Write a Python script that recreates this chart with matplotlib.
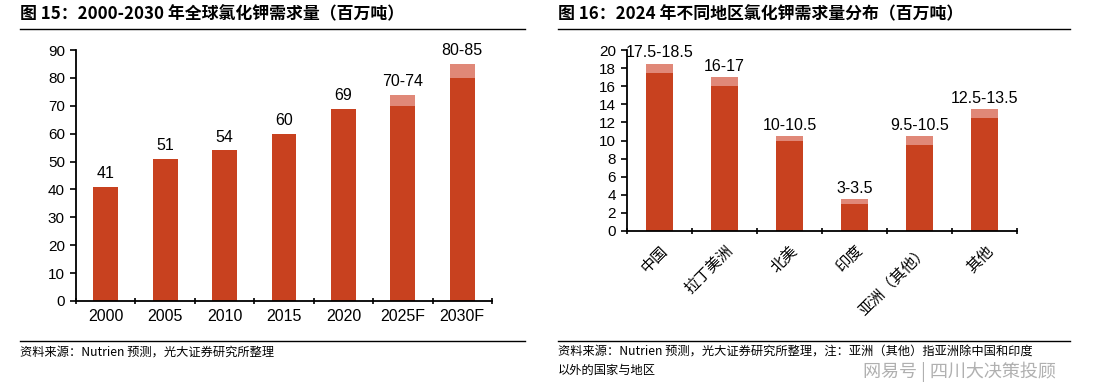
import numpy as np
import matplotlib
matplotlib.use("Agg")
import matplotlib.pyplot as plt
from matplotlib.lines import Line2D

plt.rcParams['font.family'] = ['Liberation Sans', 'Noto Sans CJK SC', 'DejaVu Sans']

# ---------------------------------------------------------------------------
# Data
# ---------------------------------------------------------------------------
years = ["2000", "2005", "2010", "2015", "2020", "2025F", "2030F"]
demand_low = [41, 51, 54, 60, 69, 70, 80]
demand_range = [0, 0, 0, 0, 0, 4, 5]
demand_labels = ["41", "51", "54", "60", "69", "70-74", "80-85"]

regions = ["中国", "拉丁美洲", "北美", "印度", "亚洲（其他）", "其他"]
region_low = [17.5, 16, 10, 3, 9.5, 12.5]
region_range = [1, 1, 0.5, 0.5, 1, 1]
region_labels = ["17.5-18.5", "16-17", "10-10.5", "3-3.5", "9.5-10.5", "12.5-13.5"]

DARK = "#C8411F"
LIGHT = "#E08878"
CJK = ['Noto Sans CJK SC', 'DejaVu Sans']

W, H = 1099, 391
fig = plt.figure(figsize=(W / 100, H / 100), dpi=100)


def fx(px):
    return px / W


def fy(py):
    return 1 - py / H


def style_axes(ax, n):
    for s in ["top", "right"]:
        ax.spines[s].set_visible(False)
    for s in ["left", "bottom"]:
        ax.spines[s].set_linewidth(1.3)
        ax.spines[s].set_color("black")
    ax.set_xlim(-0.5, n - 0.5)
    ax.set_xticks(range(n))
    ax.tick_params(axis="x", which="major", length=0, pad=6)
    ax.set_xticks(np.arange(-0.5, n), minor=True)
    ax.tick_params(axis="x", which="minor", length=4, width=1.2, direction="inout")
    ax.tick_params(axis="y", length=4, width=1.2, direction="out", pad=4, labelsize=11)


def draw_bars(ax, low, rng, labels, offset):
    x = np.arange(len(low))
    ax.bar(x, low, width=0.42, color=DARK, zorder=2)
    ax.bar(x, rng, bottom=low, width=0.42, color=LIGHT, zorder=2)
    tops = np.array(low) + np.array(rng)
    for xi, t, lab in zip(x, tops, labels):
        ax.text(xi, t + offset, lab, ha="center", va="bottom", fontsize=11.5)


# ---- Left chart -------------------------------------------------------------
ax1 = fig.add_axes([fx(76), fy(301), fx(492) - fx(76), fy(50) - fy(301)])
draw_bars(ax1, demand_low, demand_range, demand_labels, 2.0)
style_axes(ax1, len(years))
ax1.set_ylim(0, 90)
ax1.set_yticks(range(0, 91, 10))
ax1.set_xticklabels(years, fontsize=11.5)

# ---- Right chart ------------------------------------------------------------
ax2 = fig.add_axes([fx(627), fy(231), fx(1017) - fx(627), fy(50) - fy(231)])
draw_bars(ax2, region_low, region_range, region_labels, 0.35)
style_axes(ax2, len(regions))
ax2.set_ylim(0, 20)
ax2.set_yticks(range(0, 21, 2))
ax2.set_xticklabels(regions, rotation=45, ha="right", rotation_mode="anchor",
                    fontsize=11, family=CJK)
ax2.tick_params(axis="x", which="major", pad=8)

# ---- Titles, rules and source notes ---------------------------------------
fig.text(fx(20), fy(14), "图 15：2000-2030 年全球氯化钾需求量（百万吨）",
         family=CJK, fontsize=12.2, fontweight="bold", va="center", ha="left")
fig.text(fx(558), fy(14), "图 16：2024 年不同地区氯化钾需求量分布（百万吨）",
         family=CJK, fontsize=12.2, fontweight="bold", va="center", ha="left")

for x0, x1 in [(20, 525), (558, 1070)]:
    fig.add_artist(Line2D([fx(x0), fx(x1)], [fy(29), fy(29)], color="black", lw=1.0))
    fig.add_artist(Line2D([fx(x0), fx(x1)], [fy(341), fy(341)], color="black", lw=1.0))

fig.text(fx(20), fy(352), "资料来源：Nutrien 预测，光大证券研究所整理",
         family=CJK, fontsize=8.8, va="center", ha="left")
fig.text(fx(558), fy(352),
         "资料来源：Nutrien 预测，光大证券研究所整理，注：亚洲（其他）指亚洲除中国和印度",
         family=CJK, fontsize=8.8, va="center", ha="left")
fig.text(fx(558), fy(370), "以外的国家与地区",
         family=CJK, fontsize=8.8, va="center", ha="left")
fig.text(fx(1056), fy(372), "网易号 | 四川大决策投顾",
         family=CJK, fontsize=13, color="#B0B0B0", va="center", ha="right")

fig.savefig("out.png", dpi=100)
plt.close(fig)
